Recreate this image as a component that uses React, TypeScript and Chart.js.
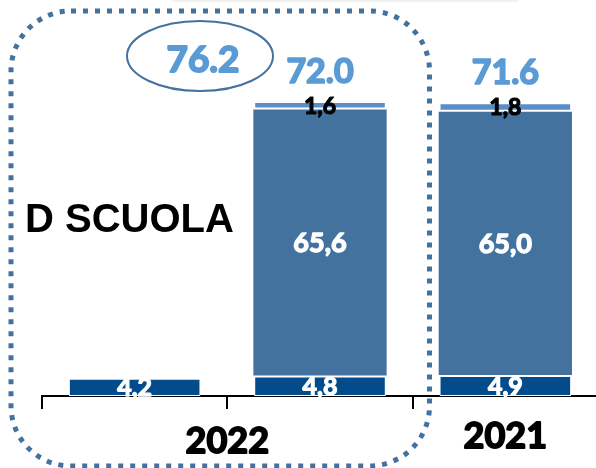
import React, { useEffect, useRef } from "react";
import { Chart, registerables } from "chart.js";

Chart.register(...registerables);

// ---- data ----
const categories = ["2022 (A)", "2022 (B)", "2021"];
const baseValues = [4.2, 4.8, 4.9];
const mainValues = [null, 65.6, 65.0];
const topValues = [null, 1.6, 1.8];
const totalLabels = [null, "72.0", "71.6"];
const highlightLabel = "76.2";
const sideTitle = "D SCUOLA";
const groupLabels = [
  { text: "2022", from: 0, to: 1 },
  { text: "2021", from: 2, to: 2 },
];

// ---- styles ----
const DARK = "#034C8C";
const MID = "#44729E";
const LIGHT = "#5A8EC8";
const TOTAL = "#5B9BD5";
const FRAME = "#44729F";
const NUM_FONT = "Lato, 'Open Sans', sans-serif";
const segmentLabelStyles = [
  { color: "#ffffff", size: 25 },
  { color: "#ffffff", size: 27 },
  { color: "#000000", size: 23 },
];
const groupBaselines = [453, 448];

const fmt = (v: number) => v.toFixed(1).replace(".", ",");

const overlayPlugin = {
  id: "overlay",
  afterDraw(chart: any) {
    const ctx: CanvasRenderingContext2D = chart.ctx;
    const xs = chart.scales.x;
    ctx.save();

    // faint strip at the top
    ctx.fillStyle = "#f1f1ef";
    ctx.beginPath();
    (ctx as any).roundRect(170, -8, 350, 10, 5);
    ctx.fill();

    // dotted rounded frame
    ctx.strokeStyle = FRAME;
    ctx.lineWidth = 5;
    ctx.setLineDash([5, 7]);
    ctx.beginPath();
    (ctx as any).roundRect(11, 11, 418.5, 455, 60);
    ctx.stroke();
    ctx.setLineDash([]);

    // ellipse around highlight
    ctx.lineWidth = 2;
    ctx.beginPath();
    ctx.ellipse(200, 56, 73, 35, 0, 0, Math.PI * 2);
    ctx.stroke();

    const heavy = (s: string, x: number, y: number, size: number, color: string) => {
      ctx.font = `bold ${size}px ${NUM_FONT}`;
      ctx.fillStyle = color;
      ctx.strokeStyle = color;
      ctx.lineJoin = "round";
      ctx.lineWidth = size * 0.05;
      ctx.textAlign = "center";
      ctx.textBaseline = "alphabetic";
      ctx.fillText(s, x, y);
      ctx.strokeText(s, x, y);
    };
    const text = (s: string, cx: number, cy: number, size: number, color: string) => {
      heavy(s, cx, cy + size * 0.358, size, color);
    };

    text(highlightLabel, 203, 58.5, 37, TOTAL);

    ctx.font = "bold 40px 'Liberation Sans', Arial, sans-serif";
    ctx.fillStyle = "#000";
    ctx.textAlign = "left";
    ctx.textBaseline = "alphabetic";
    ctx.fillText(sideTitle, 25, 232);

    // segment labels
    chart.data.datasets.forEach((ds: any, di: number) => {
      const meta = chart.getDatasetMeta(di);
      const st = segmentLabelStyles[di];
      meta.data.forEach((bar: any, i: number) => {
        const v = ds.data[i];
        if (v == null) return;
        const cy = (bar.y + bar.base) / 2;
        text(fmt(v), bar.x, cy, st.size, st.color);
      });
    });

    // totals
    const topMeta = chart.getDatasetMeta(chart.data.datasets.length - 1);
    totalLabels.forEach((t, i) => {
      if (t == null) return;
      const bar: any = topMeta.data[i];
      text(t, bar.x, bar.y - 31.5, 34, TOTAL);
    });

    // group labels under the axis
    groupLabels.forEach((g, gi) => {
      const cx = (xs.getPixelForValue(g.from) + xs.getPixelForValue(g.to)) / 2;
      heavy(g.text, cx, groupBaselines[gi], 36, "#000");
    });

    ctx.restore();
  },
};

export default function App() {
  const ref = useRef<HTMLCanvasElement | null>(null);

  useEffect(() => {
    if (!ref.current) return;
    const chart = new Chart(ref.current, {
      type: "bar",
      data: {
        labels: categories,
        datasets: [
          {
            data: baseValues,
            backgroundColor: DARK,
            borderColor: "#ffffff",
            borderWidth: 1,
            borderSkipped: false,
            categoryPercentage: 1,
            barPercentage: 0.71,
          },
          {
            data: mainValues,
            backgroundColor: MID,
            borderColor: "#ffffff",
            borderWidth: 1,
            borderSkipped: false,
            categoryPercentage: 1,
            barPercentage: 0.73,
          },
          {
            data: topValues,
            backgroundColor: LIGHT,
            borderColor: "#ffffff",
            borderWidth: 1,
            borderSkipped: false,
            categoryPercentage: 1,
            barPercentage: 0.71,
          },
        ],
      } as any,
      options: {
        responsive: false,
        animation: false,
        devicePixelRatio: 1,
        layout: { padding: { left: 42, right: 2, top: 0, bottom: 59 } },
        plugins: { legend: { display: false }, tooltip: { enabled: false } },
        scales: {
          x: {
            stacked: true,
            z: 1,
            offset: true,
            grid: {
              offset: true,
              drawOnChartArea: false,
              drawTicks: true,
              tickLength: 13,
              color: "#000",
              lineWidth: 2,
            },
            border: { display: true, color: "#000", width: 2 },
            ticks: { display: false },
          },
          y: { stacked: true, display: false, min: 0, max: 97 },
        },
      } as any,
      plugins: [overlayPlugin],
    });
    return () => chart.destroy();
  }, []);

  return (
    <div
      style={{
        position: "fixed",
        left: 0,
        top: 0,
        width: 596,
        height: 468,
        overflow: "hidden",
        background: "#fff",
      }}
    >
      <canvas ref={ref} width={600} height={468} style={{ display: "block" }} />
    </div>
  );
}
